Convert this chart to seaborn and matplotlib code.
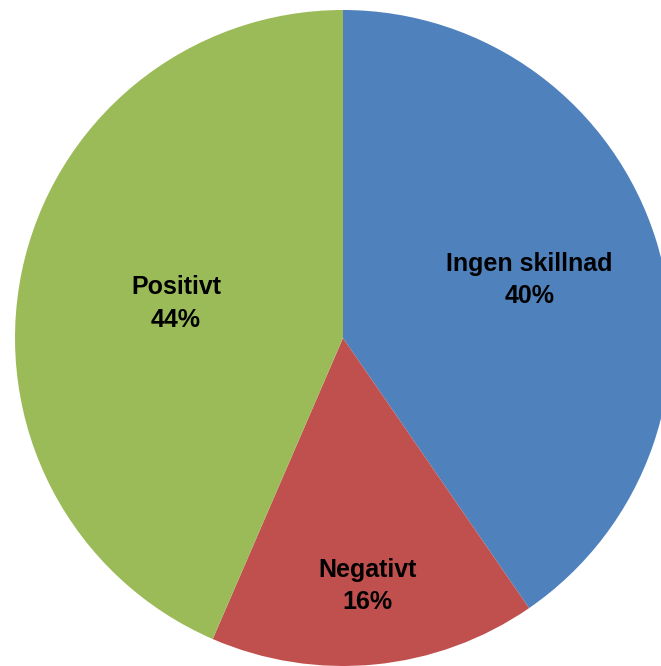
import numpy as np
import matplotlib
matplotlib.use('Agg')
import matplotlib.pyplot as plt
import seaborn as sns

# data
labels = ['Ingen skillnad', 'Negativt', 'Positivt']
shares = [40.4, 16.1, 43.5]
colors = ['#4F81BD', '#C0504D', '#9BBB59']
label_radius = [0.595, 0.76, 0.52]

sns.set_style('white')
plt.rcParams['font.family'] = ['Liberation Sans Narrow', 'DejaVu Sans Condensed', 'Liberation Sans']

fig = plt.figure(figsize=(6.61, 6.66), dpi=100)
ax = fig.add_axes([0, 0, 1, 1])

# pie centred at pixel (343, 338), radius 328 px
R = 328
wedges, _ = ax.pie(shares, colors=colors, startangle=90, counterclock=False,
                   radius=1, center=(0, 0), wedgeprops=dict(linewidth=0))
ax.set_xlim(-343 / R, (661 - 343) / R)
ax.set_ylim(-(666 - 338) / R, 338 / R)
ax.set_aspect('auto')
ax.axis('off')

for w, lab, val, r in zip(wedges, labels, shares, label_radius):
    ang = np.deg2rad((w.theta1 + w.theta2) / 2)
    ax.text(r * np.cos(ang), r * np.sin(ang), f'{lab}\n{round(val)}%',
            ha='center', va='center', fontsize=18, fontweight='bold',
            fontstretch='condensed', linespacing=1.45, color='black')

fig.savefig('out.png', dpi=100)
